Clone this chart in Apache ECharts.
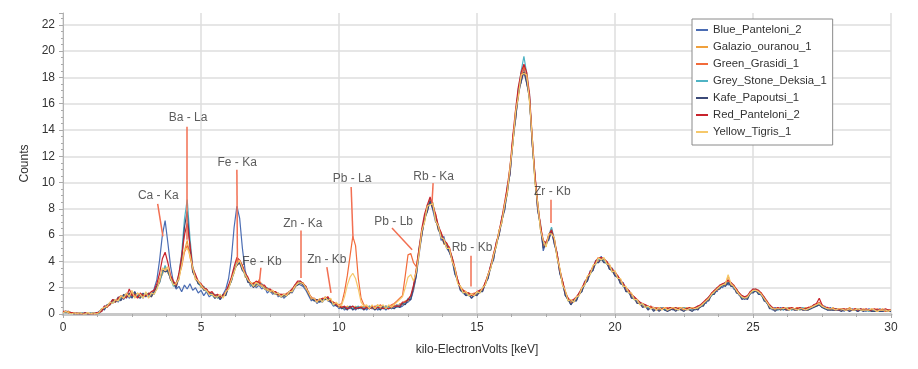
<!DOCTYPE html>
<html>
<head>
<meta charset="utf-8">
<script src="https://cdn.jsdelivr.net/npm/echarts@6/dist/echarts.min.js"></script>
<style>
  html, body { margin: 0; padding: 0; background: #fff; }
  #chart { width: 918px; height: 369px; }
</style>
</head>
<body>
<div id="chart"></div>
<script>
// channel grid: 0.0 .. 30.0 keV, one value every 0.1 keV
let kevStep = 0.1;

let seriesNames = ['Blue_Panteloni_2', 'Galazio_ouranou_1', 'Green_Grasidi_1',
  'Grey_Stone_Deksia_1', 'Kafe_Papoutsi_1', 'Red_Panteloni_2', 'Yellow_Tigris_1'];
let colors = ['#4a6cb3', '#f0a03c', '#f26b3a', '#4fb3c4', '#3b4a78', '#c8232c', '#f6c86a'];

let blue = [
  0.1,0.2,0.2,0.1,0.0,0.1,0.0,0.0,0.1,0.0,
  0.0,0.1,0.0,0.2,0.2,0.6,0.5,0.9,0.8,1.1,
  0.9,1.3,1.1,1.6,1.2,1.4,1.7,1.3,1.5,1.2,
  1.6,1.3,1.4,1.9,2.6,4.1,6.0,7.1,5.4,3.6,
  2.4,1.9,2.1,1.7,2.2,1.9,2.3,1.8,2.0,1.6,
  1.8,1.4,1.7,1.3,1.5,1.2,1.4,1.1,1.5,1.9,
  2.7,4.2,6.6,8.2,7.3,5.0,3.3,2.6,2.1,2.3,
  2.0,2.2,1.9,2.1,1.6,1.8,1.5,1.7,1.3,1.5,
  1.2,1.4,1.7,1.6,2.0,2.4,2.2,2.1,1.8,1.4,
  1.0,1.2,0.8,1.0,0.9,1.3,1.0,0.9,0.6,0.7,
  0.4,0.6,0.3,0.5,0.4,0.6,0.3,0.5,0.4,0.6,
  0.3,0.5,0.4,0.6,0.3,0.4,0.5,0.3,0.6,0.4,
  0.5,0.7,0.5,0.6,0.8,0.9,1.1,1.8,2.9,4.5,
  6.0,7.4,7.8,8.8,7.9,7.0,6.8,5.6,5.9,5.0,
  4.7,4.1,3.0,2.6,1.8,1.6,1.4,1.6,1.2,1.4,
  1.5,1.8,1.7,2.4,2.7,3.8,4.1,5.5,6.0,7.4,
  7.9,9.8,10.6,13.5,14.8,17.2,17.6,18.8,17.5,16.8,
  12.9,10.6,7.8,6.9,4.8,5.5,5.6,6.4,5.3,4.7,
  3.1,2.5,1.4,1.2,0.7,1.1,1.0,1.6,1.7,2.5,
  2.5,3.3,3.3,4.1,3.9,4.4,3.9,4.0,3.4,3.5,
  2.9,2.9,2.3,2.4,1.7,1.8,1.2,1.3,0.9,0.9,
  0.6,0.7,0.4,0.6,0.3,0.5,0.3,0.5,0.3,0.4,
  0.5,0.3,0.4,0.3,0.5,0.4,0.3,0.5,0.4,0.3,
  0.6,0.5,0.9,0.8,1.3,1.4,1.8,1.7,2.2,2.0,
  2.4,2.2,2.4,1.9,1.9,1.4,1.4,1.1,1.4,1.5,
  1.9,1.7,1.8,1.4,1.3,0.8,0.7,0.3,0.5,0.3,
  0.5,0.3,0.4,0.5,0.3,0.4,0.3,0.5,0.4,0.3,
  0.4,0.4,0.7,0.6,0.7,0.5,0.6,0.3,0.5,0.3,
  0.4,0.3,0.4,0.2,0.4,0.3,0.4,0.3,0.2,0.4,
  0.3,0.2,0.4,0.3,0.2,0.3,0.4,0.2,0.3,0.3,
  0.2
];
let galazio = [
  0.2,0.1,0.2,0.1,0.1,0.0,0.1,0.0,0.0,0.1,
  0.0,0.0,0.1,0.1,0.4,0.4,0.7,0.7,1.0,0.9,
  1.2,1.1,1.5,1.3,1.6,1.4,1.3,1.6,1.3,1.5,
  1.4,1.6,1.3,1.7,1.9,2.7,3.0,3.6,3.1,2.9,
  2.2,2.4,2.6,4.0,4.8,5.6,4.3,3.6,2.6,2.5,
  2.0,2.1,1.7,1.7,1.4,1.5,1.2,1.4,1.3,1.7,
  1.9,2.7,3.1,4.2,3.8,3.7,2.8,2.7,2.2,2.4,
  2.1,2.6,2.1,2.1,1.8,1.9,1.6,1.7,1.4,1.5,
  1.3,1.6,1.5,1.9,2.0,2.4,2.3,2.4,1.9,1.7,
  1.1,1.2,0.9,1.1,1.0,1.3,1.1,1.1,0.7,0.8,
  0.5,0.6,0.4,0.6,0.5,0.4,0.6,0.4,0.6,0.5,
  0.6,0.4,0.6,0.5,0.7,0.4,0.5,0.6,0.4,0.6,
  0.7,0.5,0.8,0.7,1.0,1.0,1.4,1.9,3.4,4.6,
  6.4,7.0,8.3,8.4,8.5,7.2,6.4,6.2,5.3,5.4,
  4.8,4.3,3.4,2.4,2.1,1.8,1.5,1.6,1.5,1.4,
  1.7,1.6,2.0,2.2,3.0,3.5,4.6,5.1,6.4,6.9,
  8.4,9.1,11.3,12.9,15.5,16.5,18.3,18.4,18.2,16.2,
  13.5,10.0,8.5,6.4,5.6,5.1,6.1,6.1,5.8,4.3,
  3.4,2.2,1.7,1.0,1.0,0.9,1.3,1.4,2.0,2.2,
  2.8,3.0,3.6,3.8,4.3,4.1,4.2,3.8,3.7,3.2,
  3.2,2.7,2.6,2.1,2.0,1.6,1.5,1.1,1.1,0.7,
  0.8,0.5,0.6,0.4,0.5,0.3,0.5,0.4,0.5,0.3,
  0.4,0.5,0.3,0.5,0.4,0.3,0.5,0.4,0.3,0.5,
  0.4,0.7,0.7,1.1,1.1,1.6,1.6,2.0,2.0,2.3,
  2.2,2.9,2.2,2.2,1.7,1.6,1.2,1.3,1.2,1.7,
  1.7,1.9,1.6,1.6,1.1,1.0,0.5,0.5,0.3,0.5,
  0.3,0.5,0.4,0.3,0.5,0.4,0.5,0.3,0.4,0.5,
  0.3,0.6,0.5,0.8,0.7,0.7,0.4,0.5,0.3,0.5,
  0.3,0.4,0.3,0.4,0.3,0.5,0.3,0.4,0.3,0.3,
  0.4,0.3,0.2,0.4,0.3,0.2,0.3,0.4,0.2,0.3,
  0.3
];
let green = [
  0.1,0.2,0.1,0.1,0.0,0.1,0.0,0.1,0.0,0.0,
  0.1,0.0,0.0,0.1,0.3,0.5,0.5,0.8,1.0,0.9,
  1.1,1.3,1.2,1.5,1.3,1.7,1.3,1.4,1.5,1.3,
  1.5,1.5,1.6,1.5,2.1,2.5,3.3,3.4,3.4,2.6,
  2.4,2.1,2.9,3.6,4.7,5.2,4.8,3.2,2.9,2.3,
  2.3,1.9,1.9,1.5,1.6,1.3,1.4,1.2,1.5,1.5,
  2.1,2.5,3.4,3.7,4.1,3.4,3.1,2.5,2.4,2.1,
  2.4,2.5,2.3,1.9,2.0,1.7,1.8,1.5,1.6,1.3,
  1.5,1.4,1.7,1.7,2.2,2.2,2.5,2.2,2.1,1.5,
  1.3,1.0,1.1,0.9,1.2,1.1,1.3,0.9,0.9,0.8,
  0.7,0.8,1.7,2.9,4.4,5.9,5.2,2.7,1.2,0.7,
  0.5,0.6,0.4,0.6,0.5,0.7,0.5,0.6,0.5,0.7,
  0.8,1.0,1.2,1.4,2.9,4.5,4.6,3.9,3.6,4.9,
  6.1,7.3,7.9,8.7,8.0,7.6,6.5,6.1,5.5,5.1,
  5.1,4.0,3.4,2.6,1.9,1.8,1.7,1.4,1.5,1.6,
  1.5,1.8,1.8,2.4,2.8,3.7,4.3,5.4,6.1,7.2,
  8.1,9.6,10.8,13.4,15.0,17.0,17.8,18.9,17.7,16.6,
  13.0,10.5,8.0,6.8,5.2,5.4,5.8,6.5,5.5,4.6,
  3.2,2.5,1.5,1.2,0.8,1.1,1.1,1.6,1.8,2.4,
  2.6,3.2,3.4,4.0,4.0,4.3,4.0,4.0,3.5,3.4,
  3.0,2.9,2.4,2.3,1.8,1.8,1.3,1.3,0.9,0.9,
  0.6,0.7,0.5,0.6,0.4,0.5,0.3,0.5,0.4,0.5,
  0.3,0.5,0.4,0.4,0.3,0.5,0.4,0.3,0.5,0.4,
  0.5,0.6,0.8,1.0,1.2,1.5,1.8,1.8,2.1,2.3,
  2.3,2.5,2.3,2.0,1.9,1.5,1.3,1.2,1.3,1.6,
  1.8,1.8,1.7,1.5,1.2,0.9,0.6,0.4,0.4,0.4,
  0.4,0.4,0.3,0.5,0.4,0.3,0.5,0.4,0.3,0.4,
  0.5,0.5,0.6,0.7,0.9,0.6,0.5,0.4,0.4,0.3,
  0.3,0.4,0.3,0.3,0.4,0.3,0.3,0.4,0.3,0.3,
  0.3,0.3,0.3,0.2,0.3,0.4,0.3,0.3,0.2,0.3,
  0.3
];
let greyStone = [
  0.2,0.1,0.1,0.0,0.1,0.0,0.0,0.1,0.0,0.0,
  0.1,0.0,0.1,0.0,0.3,0.4,0.7,0.7,0.9,1.1,
  1.0,1.2,1.4,1.3,1.5,1.3,1.6,1.4,1.5,1.3,
  1.6,1.4,1.6,1.5,2.0,2.4,3.1,3.7,3.2,2.7,
  2.1,2.3,3.0,4.6,7.2,8.7,5.8,3.6,2.9,2.3,
  2.1,2.1,1.7,1.6,1.4,1.5,1.2,1.4,1.3,1.6,
  2.0,2.5,3.2,3.9,3.9,3.6,2.9,2.7,2.2,2.2,
  2.2,2.3,2.3,1.9,2.0,1.7,1.7,1.5,1.6,1.3,
  1.4,1.4,1.7,1.7,2.2,2.2,2.5,2.2,2.1,1.5,
  1.2,1.0,1.1,0.9,1.1,1.1,1.2,1.0,0.7,0.7,
  0.6,0.4,0.5,0.4,0.6,0.4,0.5,0.6,0.4,0.5,
  0.4,0.6,0.5,0.4,0.6,0.5,0.4,0.6,0.5,0.4,
  0.6,0.5,0.7,0.8,0.8,1.2,1.2,2.1,3.1,5.0,
  6.3,7.1,8.2,8.5,8.4,7.3,6.7,5.9,5.7,5.1,
  4.9,4.3,3.2,2.5,2.0,1.6,1.6,1.4,1.4,1.5,
  1.6,1.6,2.0,2.2,3.0,3.5,4.5,5.2,6.3,7.0,
  8.3,9.3,11.2,13.0,15.4,17.0,18.5,19.6,18.3,16.4,
  13.4,10.2,8.4,6.5,5.5,5.2,6.0,6.6,5.7,4.4,
  3.4,2.3,1.6,1.0,1.0,1.0,1.2,1.5,1.9,2.2,
  2.8,3.0,3.6,3.8,4.2,4.1,4.1,3.8,3.7,3.2,
  3.2,2.7,2.6,2.1,2.0,1.6,1.5,1.1,1.0,0.8,
  0.7,0.6,0.5,0.4,0.5,0.4,0.4,0.5,0.3,0.4,
  0.4,0.4,0.5,0.3,0.4,0.5,0.4,0.4,0.3,0.4,
  0.5,0.6,0.7,1.0,1.3,1.4,1.7,2.0,2.0,2.2,
  2.4,2.3,2.4,2.0,1.8,1.6,1.2,1.3,1.2,1.7,
  1.7,1.9,1.6,1.5,1.1,0.9,0.6,0.4,0.4,0.3,
  0.4,0.3,0.5,0.4,0.3,0.4,0.4,0.3,0.5,0.4,
  0.4,0.5,0.6,0.6,0.8,0.6,0.4,0.4,0.4,0.3,
  0.4,0.3,0.4,0.3,0.3,0.4,0.3,0.3,0.4,0.3,
  0.3,0.3,0.2,0.3,0.3,0.3,0.2,0.3,0.3,0.2,
  0.3
];
let kafe = [
  0.1,0.2,0.1,0.1,0.0,0.0,0.1,0.0,0.1,0.0,
  0.0,0.1,0.0,0.1,0.4,0.3,0.7,0.8,1.1,0.9,
  1.3,1.0,1.5,1.2,1.6,1.2,1.7,1.3,1.2,1.6,
  1.3,1.6,1.3,1.7,2.1,2.4,3.4,3.2,3.3,2.6,
  2.4,2.0,2.8,4.1,6.6,7.8,5.1,3.2,2.8,2.3,
  2.2,1.8,1.9,1.5,1.6,1.2,1.4,1.1,1.5,1.4,
  2.1,2.5,3.4,3.7,3.9,3.3,3.1,2.4,2.4,2.0,
  2.3,2.2,2.2,1.9,1.9,1.7,1.7,1.5,1.5,1.3,
  1.4,1.4,1.6,1.7,2.1,2.2,2.4,2.2,2.0,1.5,
  1.2,1.0,1.1,0.9,1.1,1.1,1.2,0.9,0.8,0.6,
  0.6,0.4,0.5,0.3,0.6,0.3,0.5,0.4,0.5,0.3,
  0.5,0.4,0.5,0.3,0.5,0.3,0.6,0.4,0.4,0.5,
  0.4,0.6,0.5,0.8,0.7,1.1,1.1,2.0,2.9,4.8,
  6.0,7.2,7.8,8.6,8.0,7.4,6.4,6.0,5.4,5.2,
  4.7,4.2,3.1,2.5,1.8,1.7,1.4,1.5,1.2,1.5,
  1.4,1.7,1.7,2.3,2.7,3.6,4.2,5.3,6.0,7.1,
  7.9,9.3,10.8,13.1,14.9,16.7,17.7,18.4,17.6,16.4,
  13.0,10.3,8.0,6.6,5.0,5.3,5.7,6.3,5.4,4.5,
  3.1,2.4,1.4,1.1,0.7,1.0,1.0,1.5,1.7,2.3,
  2.5,3.1,3.3,3.9,3.9,4.2,3.9,3.9,3.4,3.3,
  2.9,2.8,2.3,2.2,1.7,1.7,1.2,1.2,0.8,0.8,
  0.5,0.6,0.3,0.5,0.2,0.4,0.2,0.4,0.3,0.2,
  0.3,0.4,0.2,0.4,0.3,0.2,0.4,0.3,0.2,0.4,
  0.3,0.6,0.6,1.0,1.0,1.5,1.5,1.9,1.9,2.2,
  2.1,2.4,2.1,2.1,1.6,1.5,1.1,1.2,1.1,1.6,
  1.6,1.8,1.5,1.5,1.0,0.9,0.4,0.4,0.2,0.4,
  0.3,0.4,0.3,0.3,0.4,0.3,0.3,0.4,0.3,0.3,
  0.3,0.4,0.5,0.6,0.7,0.5,0.4,0.3,0.3,0.3,
  0.3,0.3,0.2,0.3,0.3,0.2,0.3,0.3,0.2,0.3,
  0.2,0.3,0.3,0.2,0.2,0.3,0.2,0.2,0.3,0.2,
  0.2
];
let red = [
  0.2,0.2,0.1,0.1,0.1,0.0,0.0,0.0,0.1,0.0,
  0.0,0.0,0.1,0.1,0.2,0.6,0.6,0.7,1.1,1.0,
  1.2,1.4,1.2,1.3,1.9,1.4,1.5,1.2,1.6,1.4,
  1.4,1.5,1.7,1.8,2.3,3.1,4.2,4.7,3.9,2.9,
  2.5,2.2,3.1,4.4,6.0,6.9,5.3,3.5,3.0,2.5,
  2.3,2.0,1.9,1.6,1.7,1.4,1.5,1.3,1.4,1.7,
  2.2,2.8,3.6,4.3,4.1,3.7,3.1,2.8,2.3,2.3,
  2.5,2.4,2.2,2.2,1.9,1.9,1.7,1.7,1.5,1.5,
  1.5,1.5,1.7,1.9,2.2,2.5,2.5,2.3,2.1,1.6,
  1.2,1.2,1.0,1.1,1.2,1.2,1.3,1.0,0.9,0.7,
  0.6,0.5,0.6,0.4,0.5,0.6,0.4,0.5,0.5,0.4,
  0.5,0.4,0.6,0.4,0.5,0.5,0.4,0.5,0.4,0.5,
  0.6,0.6,0.6,0.9,0.9,1.1,1.4,2.2,3.4,5.0,
  6.5,7.6,8.3,8.9,8.3,7.6,6.7,6.2,5.6,5.4,
  5.0,4.3,3.5,2.6,2.0,1.8,1.6,1.6,1.4,1.5,
  1.7,1.8,1.9,2.4,3.0,3.7,4.6,5.4,6.3,7.3,
  8.5,9.7,11.3,13.6,15.6,17.3,18.4,19.0,18.4,16.8,
  13.5,10.6,8.4,6.7,5.6,5.4,6.0,6.4,5.7,4.6,
  3.4,2.5,1.7,1.2,1.0,1.1,1.3,1.6,2.0,2.4,
  2.8,3.2,3.6,4.0,4.3,4.3,4.2,4.0,3.7,3.4,
  3.2,2.9,2.6,2.3,2.0,1.8,1.5,1.3,1.1,0.9,
  0.8,0.7,0.6,0.5,0.5,0.4,0.5,0.4,0.5,0.4,
  0.5,0.4,0.5,0.4,0.5,0.4,0.4,0.5,0.4,0.5,
  0.6,0.7,0.9,1.1,1.3,1.6,1.8,2.0,2.2,2.3,
  2.4,2.6,2.4,2.2,1.9,1.6,1.4,1.3,1.4,1.7,
  1.9,1.9,1.8,1.6,1.3,1.0,0.7,0.5,0.4,0.5,
  0.4,0.5,0.4,0.4,0.5,0.4,0.4,0.5,0.4,0.4,
  0.5,0.5,0.7,0.8,1.2,0.7,0.5,0.5,0.4,0.4,
  0.4,0.3,0.4,0.4,0.3,0.4,0.3,0.4,0.3,0.4,
  0.3,0.4,0.3,0.3,0.4,0.3,0.3,0.3,0.4,0.3,
  0.3
];
let yellow = [
  0.1,0.2,0.1,0.0,0.1,0.0,0.1,0.0,0.0,0.1,
  0.0,0.1,0.0,0.1,0.4,0.5,0.6,0.9,0.8,1.1,
  1.0,1.4,1.2,1.6,1.3,1.8,1.2,1.6,1.5,1.2,
  1.7,1.2,1.6,1.5,1.9,2.5,3.5,3.3,3.6,2.7,
  2.2,2.3,2.7,3.7,4.9,5.0,4.5,3.5,2.7,2.5,
  2.2,1.9,1.8,1.5,1.5,1.3,1.3,1.5,1.2,1.7,
  1.9,2.6,3.2,3.8,4.1,3.5,3.0,2.6,2.4,2.1,
  2.4,2.2,2.2,1.9,1.9,1.7,1.8,1.5,1.6,1.3,
  1.5,1.4,1.7,1.7,2.1,2.3,2.4,2.3,2.0,1.6,
  1.2,1.2,0.9,1.2,0.9,1.3,1.0,1.2,0.7,0.9,
  0.6,0.7,1.3,2.2,2.8,3.1,2.7,1.9,0.9,0.6,
  0.7,0.4,0.7,0.4,0.7,0.5,0.7,0.4,0.7,0.5,
  0.7,0.9,1.1,1.3,2.0,2.8,3.0,2.5,3.2,4.6,
  6.3,7.0,8.2,8.3,8.4,7.1,6.7,5.8,5.7,5.0,
  5.0,4.0,3.5,2.3,2.1,1.6,1.7,1.4,1.5,1.4,
  1.7,1.6,2.0,2.2,3.0,3.5,4.5,5.2,6.3,7.0,
  8.3,9.3,11.2,13.0,15.4,16.6,18.2,18.3,18.2,16.3,
  13.4,10.1,8.4,6.4,5.6,5.1,6.1,6.1,5.8,4.3,
  3.5,2.2,1.8,1.0,1.1,0.9,1.3,1.4,2.0,2.2,
  2.9,3.0,3.7,3.8,4.3,4.1,4.3,3.8,3.8,3.2,
  3.3,2.7,2.7,2.1,2.1,1.6,1.6,1.1,1.1,0.7,
  0.8,0.5,0.6,0.4,0.5,0.3,0.5,0.3,0.5,0.3,
  0.4,0.5,0.4,0.3,0.5,0.4,0.3,0.4,0.5,0.4,
  0.5,0.6,0.8,1.0,1.2,1.5,1.7,1.9,2.1,2.2,
  2.3,3.0,2.3,2.1,1.8,1.5,1.3,1.2,1.3,1.6,
  1.8,1.8,1.7,1.5,1.2,0.9,0.6,0.4,0.4,0.4,
  0.4,0.4,0.5,0.3,0.4,0.4,0.3,0.4,0.4,0.3,
  0.4,0.5,0.6,0.7,0.8,0.6,0.5,0.4,0.4,0.4,
  0.3,0.4,0.4,0.3,0.3,0.4,0.3,0.3,0.4,0.3,
  0.3,0.3,0.3,0.4,0.3,0.2,0.3,0.3,0.3,0.2,
  0.3
];

// peak annotations: text position, line top, line bottom (keV, counts)
let peakNames = ['Ca - Ka', 'Ba - La', 'Fe - Ka', 'Fe - Kb', 'Zn - Ka', 'Zn - Kb',
  'Pb - La', 'Pb - Lb', 'Rb - Ka', 'Rb - Kb', 'Zr - Kb'];
let textKev   = [3.45, 4.53, 6.31, 7.21, 8.69, 9.56, 10.47, 11.98, 13.43, 14.82, 17.73];
let textCount = [9.0, 14.94, 11.5, 4.0, 6.87, 4.13, 10.29, 7.04, 10.42, 5.02, 9.32];
let lineTopKev   = [3.43, 4.49, 6.30, 7.17, 8.63, 9.56, 10.44, 11.92, 13.41, 14.76, 17.69];
let lineTopCount = [8.37, 14.24, 10.97, 3.52, 6.36, 3.57, 9.66, 6.54, 9.96, 4.43, 8.69];
let lineEndKev   = [3.62, 4.49, 6.32, 7.12, 8.63, 9.71, 10.51, 12.65, 13.37, 14.76, 17.69];
let lineEndCount = [5.9, 5.65, 3.9, 2.48, 2.74, 1.6, 5.65, 4.89, 8.44, 2.1, 6.92];

let allValues = [blue, galazio, green, greyStone, kafe, red, yellow];
let fontFamily = '"Liberation Sans", Arial, sans-serif';

function toPairs(values) {
  return values.map(function (v, i) { return [+(i * kevStep).toFixed(1), v]; });
}

let series = seriesNames.map(function (name, i) {
  return {
    name: name,
    type: 'line',
    data: toPairs(allValues[i]),
    showSymbol: false,
    symbol: 'none',
    color: colors[i],
    lineStyle: { width: 1.2, color: colors[i] },
    z: 2
  };
});

series.push({
  name: 'peaks',
  type: 'scatter',
  symbolSize: 0,
  silent: true,
  z: 5,
  data: peakNames.map(function (n, i) { return { name: n, value: [textKev[i], textCount[i]] }; }),
  label: {
    show: true,
    position: 'inside',
    formatter: '{b}',
    color: '#333',
    fontSize: 12,
    fontFamily: fontFamily
  },
  markLine: {
    silent: true,
    symbol: ['none', 'none'],
    label: { show: false },
    lineStyle: { color: '#f26f52', width: 1.5, type: 'solid' },
    emphasis: { disabled: true },
    data: peakNames.map(function (n, i) {
      return [{ coord: [lineTopKev[i], lineTopCount[i]] }, { coord: [lineEndKev[i], lineEndCount[i]] }];
    })
  }
});

let option = {
  animation: false,
  textStyle: { fontFamily: fontFamily },
  grid: { left: 63, right: 27, top: 13, bottom: 55 },
  legend: {
    data: seriesNames,
    orient: 'vertical',
    left: 692,
    top: 19,
    padding: [4, 6, 6, 4],
    itemGap: 3,
    itemWidth: 12,
    itemHeight: 2,
    icon: 'rect',
    backgroundColor: '#fff',
    borderColor: '#8a8a8a',
    borderWidth: 1,
    textStyle: { fontSize: 11.3, color: '#333', lineHeight: 14, fontFamily: fontFamily }
  },
  xAxis: {
    type: 'value',
    min: 0,
    max: 30,
    interval: 5,
    name: 'kilo-ElectronVolts [keV]',
    nameLocation: 'middle',
    nameGap: 30,
    nameTextStyle: { fontSize: 12, color: '#333' },
    axisLine: { show: true, lineStyle: { color: '#c8c8c8', width: 3 } },
    axisTick: { show: true, length: 4, lineStyle: { color: '#aaa' } },
    minorTick: { show: true, splitNumber: 4, length: 3, lineStyle: { color: '#aaa' } },
    axisLabel: { fontSize: 12, color: '#333', margin: 8 },
    splitLine: { show: true, lineStyle: { color: '#dedede', width: 1.5 } }
  },
  yAxis: {
    type: 'value',
    min: 0,
    max: 22.9,
    interval: 2,
    name: 'Counts',
    nameLocation: 'middle',
    nameGap: 31,
    nameTextStyle: { fontSize: 12, color: '#333' },
    axisLine: { show: true, lineStyle: { color: '#b4b4b4', width: 1 } },
    axisTick: { show: true, length: 4, lineStyle: { color: '#aaa' } },
    minorTick: { show: true, splitNumber: 4, length: 2, lineStyle: { color: '#aaa' } },
    axisLabel: { fontSize: 12, color: '#333', margin: 8, showMaxLabel: false },
    splitLine: { show: true, showMaxLine: false, lineStyle: { color: '#dedede', width: 1.5 } }
  },
  series: series
};

let container = document.getElementById('chart');
let myChart = echarts.init(container);
myChart.setOption(option);
window.addEventListener('resize', function () {
  myChart.resize();
}, false);
</script>
</body>
</html>
